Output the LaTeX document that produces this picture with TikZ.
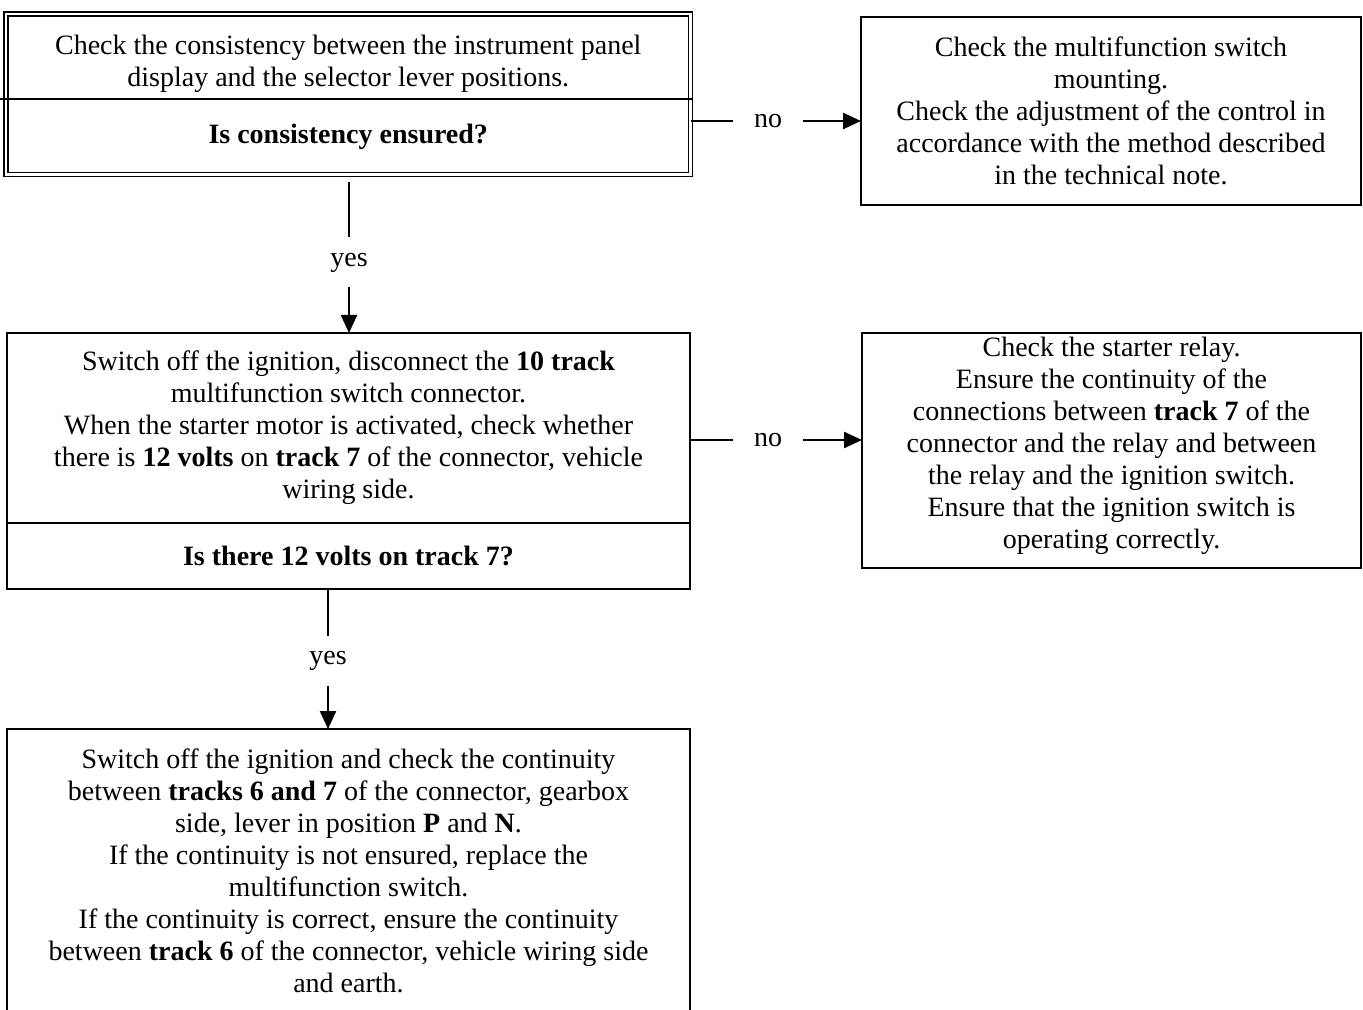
\documentclass[tikz,border=0pt]{standalone}
\usepackage{fontspec}
\setmainfont{Liberation Serif}
\usetikzlibrary{arrows.meta, positioning}

\begin{document}
\begin{tikzpicture}[x=0.5pt, y=-0.5pt,
  frame/.style={line width=1.2pt},
  dbl/.style={double, double distance=1.2pt, line width=0.8pt},
  part/.style={align=center, inner sep=0pt, outer sep=0pt, font=\fontsize{14}{16}\selectfont},
  stepbox/.style={part, draw, frame},
  ask/.style={font=\fontsize{14}{16}\selectfont\bfseries},
  lbl/.style={part, minimum width=35pt, minimum height=25pt},
  arr/.style={frame, -{Triangle[length=9pt, width=8pt]}}]
\useasboundingbox (0,0) rectangle (1363,1010);

% First check, double frame
\node[part, minimum width=342.25pt, minimum height=42.5pt] (chk) at (348.25,56.5)
  {\rule{0pt}{17pt}Check the consistency between the instrument panel\\ display and the selector lever positions.};
\node[part, ask, minimum width=342.25pt, minimum height=37.75pt, below=0pt of chk] (q1)
  {Is consistency ensured?};
\draw[dbl] (chk.north west) rectangle (q1.south east);
\draw[frame] ([xshift=-3pt]chk.south west) -- ([xshift=1pt]chk.south east);

% Mounting / adjustment
\node[stepbox, minimum width=250pt, minimum height=94pt] (mnt) at (1111,111)
  {Check the multifunction switch\\ mounting.\\ Check the adjustment of the control in\\
   accordance with the method described\\ in the technical note.};

\node[lbl] (no1) at (768,121) {no};
\draw[frame] (q1.east |- no1) -- (no1);
\draw[arr] (no1) -- (mnt.west |- no1);

% Second check
\node[stepbox, minimum width=341.5pt, minimum height=95pt] (sw) at (348.5,428)
  {Switch off the ignition, disconnect the \textbf{10 track}\\ multifunction switch connector.\\
   When the starter motor is activated, check whether\\
   there is \textbf{12 volts} on \textbf{track 7} of the connector, vehicle\\ wiring side.};
\node[stepbox, ask, minimum width=341.5pt, minimum height=33pt, below=0pt of sw] (q2)
  {Is there 12 volts on track 7?};

\node[lbl] (yes1) at (349,262.5) {yes};
\coordinate (t1) at ([yshift=-4pt]q1.south);
\draw[frame] (t1 -| yes1) -- (yes1);
\draw[arr] (yes1) -- (sw.north -| yes1);

% Starter relay
\node[stepbox, minimum width=249.5pt, minimum height=117.5pt] (rel) at (1111.5,450.5)
  {Check the starter relay.\\ Ensure the continuity of the\\
   connections between \textbf{track 7} of the\\ connector and the relay and between\\
   the relay and the ignition switch.\\ Ensure that the ignition switch is\\ operating correctly.\\[-8pt]\mbox{}};

\node[lbl] (no2) at (768,440) {no};
\draw[frame] (sw.east |- no2) -- (no2);
\draw[arr] (no2) -- (rel.west |- no2);

% Continuity check, open at the bottom
\node[part, minimum width=341.5pt, minimum height=142pt] (fin) at (348.5,871)
  {Switch off the ignition and check the continuity\\
   between \textbf{tracks 6 and 7} of the connector, gearbox\\
   side, lever in position \textbf{P} and \textbf{N}.\\
   If the continuity is not ensured, replace the\\ multifunction switch.\\
   If the continuity is correct, ensure the continuity\\
   between \textbf{track 6} of the connector, vehicle wiring side\\ and earth.};
\draw[frame] (fin.south west) -- (fin.north west) -- (fin.north east) -- (fin.south east);

\node[lbl] (yes2) at (328,660.5) {yes};
\draw[frame] (q2.south -| yes2) -- (yes2);
\draw[arr] (yes2) -- (fin.north -| yes2);
\end{tikzpicture}
\end{document}
